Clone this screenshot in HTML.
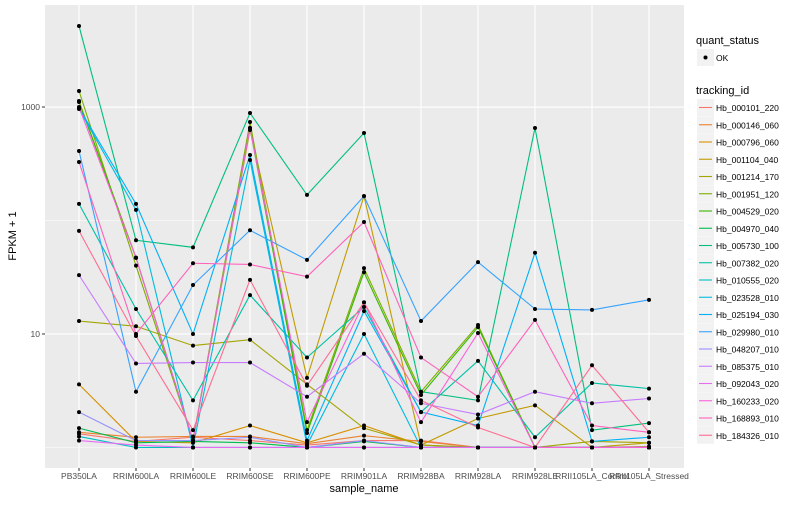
<!DOCTYPE html>
<html><head><meta charset="utf-8"><style>
body{margin:0;background:#fff;font-family:"Liberation Sans",sans-serif}
svg text{font-family:"Liberation Sans",sans-serif}
</style></head><body>
<svg id="c" width="800" height="500"></svg>
<script>
const samples=["PB350LA","RRIM600LA","RRIM600LE","RRIM600SE","RRIM600PE","RRIM901LA","RRIM928BA","RRIM928LA","RRIM928LE","RRII105LA_Control","RRII105LA_Stressed"];
const ids=["Hb_000101_220","Hb_000146_060","Hb_000796_060","Hb_001104_040","Hb_001214_170","Hb_001951_120","Hb_004529_020","Hb_004970_040","Hb_005730_100","Hb_007382_020","Hb_010555_020","Hb_023528_010","Hb_025194_030","Hb_029980_010","Hb_048207_010","Hb_085375_010","Hb_092043_020","Hb_160233_020","Hb_168893_010","Hb_184326_010"];
const colors=["#F8766D","#EA8331","#D89000","#C09B00","#A3A500","#7CAE00","#39B600","#00BB4E","#00BF7D","#00C1A3","#00BFC4","#00BAE0","#00B0F6","#35A2FF","#9590FF","#C77CFF","#E76BF3","#FA62DB","#FF62BC","#FF6C91"];
const s1=[1.32,1.13,1.23,1.15,1.05,1.15,1.15,1,1,1,1];
const s2=[1.36,1.23,1.25,1.25,1.08,1.27,1.13,1,1,1,1.02];
const s3=[3.6,1.13,1.1,1.56,1.1,1.56,1.05,1,1,1,1];
const s4=[1130,47,1.15,627,4.1,164,1.05,1.8,2.35,1,1.1];
const s5=[13,11.7,7.9,8.9,3.6,1.48,1.05,1,1,1.13,1.1];
const s6=[1384,40,1.15,738,1.42,38,3.1,12,1,1,1];
const s7=[1107,47,1.15,653,1.34,35,2.9,11.5,1,1,1];
const s8=[1.48,1.1,1.13,1.1,1,1.13,1,1,1,1,1];
const s9=[5170,67,58,885,168,590,3.1,2.6,653,1.42,1.64];
const s10=[140,16.6,2.6,22,6.2,17.3,2.05,5.8,1.23,3.7,3.3];
const s11=[1.25,1,1,1,1,1,1,1,1,1,1];
const s12=[960,124,1,341,1.05,10,1,1,1,1,1];
const s13=[980,140,10,378,1.15,15.9,2.05,1.56,52,1.13,1.23];
const s14=[410,3.1,27,82,45,164,13,43,16.6,16.3,20];
const s15=[2.05,1.15,1.15,1.23,1,1.15,1,1,1,1,1];
const s16=[33,5.5,5.6,5.6,2.8,6.7,2.45,1.95,3.1,2.45,2.7];
const s17=[1.15,1.05,1,1,1,1,1,1,1,1,1];
const s18=[1000,47,1.15,653,1.67,19,1.67,10.2,1,1,1];
const s19=[328,10,42,41,32,97,6.2,2.8,13.3,1.56,1.36];
const s20=[81,9.6,1.42,30,3.5,19,2.6,1.5,1,5.3,1.36];
const series=[s1,s2,s3,s4,s5,s6,s7,s8,s9,s10,s11,s12,s13,s14,s15,s16,s17,s18,s19,s20];
const yTickVals=[10,1000];
const yMinorVals=[1,100];

const NS="http://www.w3.org/2000/svg",svg=document.getElementById('c');
function mk(t,a,p){const e=document.createElementNS(NS,t);for(const k in a)e.setAttribute(k,a[k]);(p||svg).appendChild(e);return e;}
const L=45,R=684,T=5,B=468;
const lmin=-0.181,lmax=3.899;
function y(v){return B-(Math.log10(v)-lmin)/(lmax-lmin)*(B-T);}
function x(i){return L+34+i*57;}
const bg=mk('rect',{x:L,y:T,width:R-L,height:B-T,fill:'#EBEBEB'});


yMinorVals.forEach(v=>{const g=mk('line',{x1:L,x2:R,y1:y(v),y2:y(v),stroke:'#fff','stroke-width':0.5});

});
yTickVals.forEach(v=>{const g=mk('line',{x1:L,x2:R,y1:y(v),y2:y(v),stroke:'#fff','stroke-width':1.1});


mk('line',{x1:L-3,x2:L,y1:y(v),y2:y(v),stroke:'#333'});
const t=mk('text',{x:L-5,y:y(v)+3,'text-anchor':'end','font-size':8.5,fill:'#4d4d4d'});t.textContent=v;

});
samples.forEach((s,i)=>{const g=mk('line',{x1:x(i),x2:x(i),y1:T,y2:B,stroke:'#fff','stroke-width':1.1});


mk('line',{x1:x(i),x2:x(i),y1:B,y2:B+3,stroke:'#333'});
const t=mk('text',{x:x(i),y:B+11,'text-anchor':'middle','font-size':8.5,fill:'#4d4d4d'});t.textContent=s;

});
series.forEach((d,k)=>{const p=mk('polyline',{points:d.map((v,i)=>x(i)+','+y(v)).join(' '),fill:'none',stroke:colors[k],'stroke-width':1.1});

});
series.forEach((d,k)=>d.forEach((v,i)=>{const c=mk('circle',{cx:x(i),cy:y(v),r:2,fill:'#000'});

}));
let t=mk('text',{x:364,y:492,'text-anchor':'middle','font-size':11,fill:'#000'});t.textContent='sample_name';


t=mk('text',{x:0,y:0,'text-anchor':'middle','font-size':11,fill:'#000',transform:'translate(16,236) rotate(-90)'});t.textContent='FPKM + 1';


t=mk('text',{x:696,y:44,'font-size':11,fill:'#000'});t.textContent='quant_status';


mk('rect',{x:697,y:49,width:17,height:17,fill:'#F2F2F2'});
mk('circle',{cx:705.5,cy:57.5,r:2,fill:'#000'});
t=mk('text',{x:716,y:61,'font-size':8.5,fill:'#000'});t.textContent='OK';


t=mk('text',{x:696,y:94,'font-size':11,fill:'#000'});t.textContent='tracking_id';


ids.forEach((id,k)=>{const yy=99+k*17.25;
const r=mk('rect',{x:697,y:yy,width:17,height:17,fill:'#F2F2F2'});


mk('line',{x1:699,x2:712,y1:yy+8.5,y2:yy+8.5,stroke:colors[k],'stroke-width':1.1});
const tt=mk('text',{x:716,y:yy+12,'font-size':8.5,fill:'#000'});tt.textContent=id;

});
</script>
</body></html>
